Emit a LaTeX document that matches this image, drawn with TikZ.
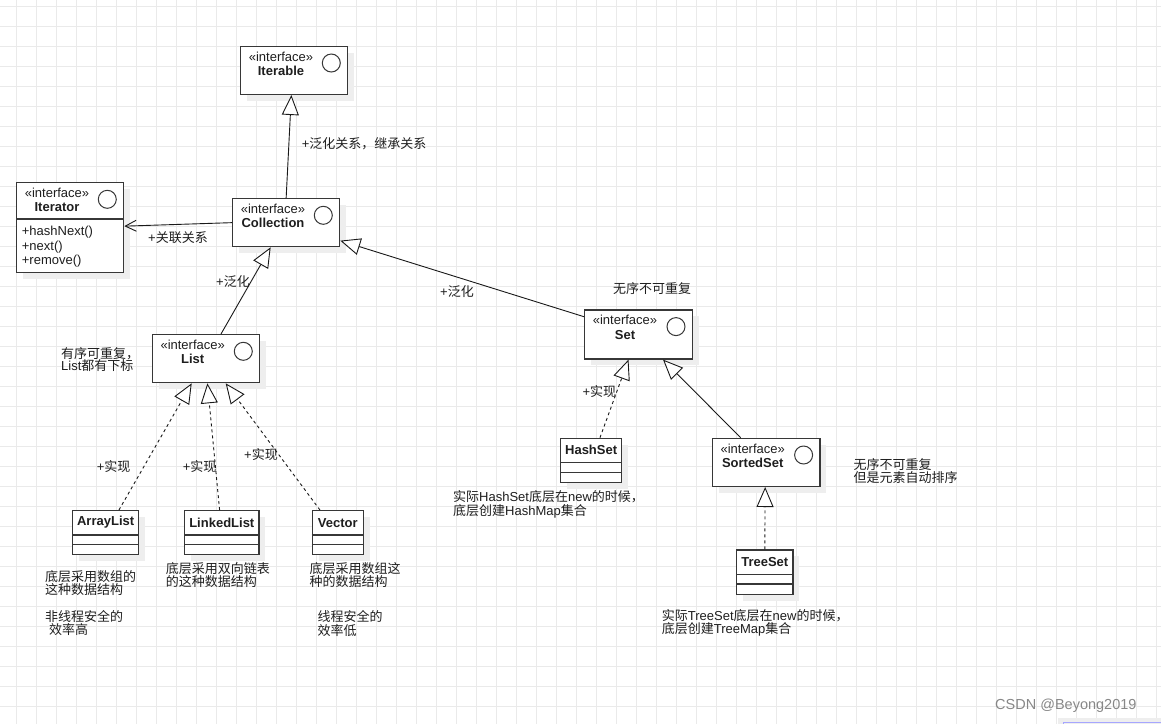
\documentclass[tikz,border=0pt]{standalone}
\usepackage{fontspec}
\setmainfont{Liberation Sans}
\newfontfamily\cjk{Noto Sans CJK SC}
\usetikzlibrary{arrows.meta}
\definecolor{gridc}{RGB}{234,234,234}
\definecolor{shadc}{RGB}{238,238,238}
\definecolor{boxc}{RGB}{55,55,55}
\definecolor{txt}{RGB}{30,30,30}
\definecolor{wmark}{RGB}{135,135,135}
\newcommand{\zh}[1]{{\cjk #1}}
\newcommand{\tightlines}{\lineskiplimit=-20pt\relax\lineskip=0pt\relax}
\newcommand{\ifacebox}[6]{% name, x, y, w, h, title
  \fill[shadc] ({#2+7},{#3+7}) rectangle ({#2+#4+7},{#3+#5+7});
  \node[ibox, minimum width=#4pt, minimum height=#5pt, anchor=north west] (#1) at (#2,#3) {};
  \node[stereo] (#1-st) at ([xshift=41pt,yshift=-11pt]#1.north west) {«interface»};
  \node[iname] (#1-nm) at ([xshift=41pt,yshift=-25.3pt]#1.north west) {#6};
  \node[icirc] (#1-c) at ([xshift=-17pt,yshift=-17.3pt]#1.north east) {};
}
\newcommand{\classbox}[6]{% name, x, y, w, h, title
  \fill[shadc] ({#2+7},{#3+7}) rectangle ({#2+#4+7},{#3+#5+7});
  \node[ibox, minimum width=#4pt, minimum height=#5pt, anchor=north west] (#1) at (#2,#3) {};
  \draw[sepline] ([yshift=-25pt]#1.north west) -- ([yshift=-25pt]#1.north east);
  \draw[sepline] ([yshift=-34.7pt]#1.north west) -- ([yshift=-34.7pt]#1.north east);
  \node[iname] (#1-nm) at ([yshift=-12.6pt]#1.north) {#6};
}
\tikzset{
  gridline/.style={draw=gridc, line width=1pt},
  ibox/.style={rectangle, draw=boxc, line width=1.3pt, fill=white, inner sep=0pt},
  sepline/.style={draw=boxc, line width=1.3pt},
  stereo/.style={inner sep=0pt, text=txt, font=\fontsize{13}{14}\selectfont},
  iname/.style={inner sep=0pt, text=txt, font=\fontsize{13}{14}\selectfont\bfseries},
  icirc/.style={circle, draw=boxc, line width=1pt, minimum size=18pt, inner sep=0pt, fill=white},
  gen/.style={draw=black!90, line width=0.9pt, -{Triangle[length=20pt, width=17pt, fill=white]}},
  real/.style={gen, dash pattern=on 3pt off 3pt},
  assoc/.style={draw=black!90, line width=0.9pt, -{Straight Barb[length=11pt, width=11pt]}},
  lbl/.style={inner sep=0pt, anchor=west, text=txt, font=\fontsize{13}{13.3}\selectfont},
  note/.style={inner sep=0pt, anchor=north west, align=left, text=txt,
    font=\fontsize{13}{13.3}\selectfont\tightlines},
}
\begin{document}
\begin{tikzpicture}[x=1pt,y=-1pt]
\fill[white] (0,0) rectangle (1161,724);
\useasboundingbox (0,0) rectangle (1161,724);
% grid
\foreach \gx in {16.5,36.5,...,1160} \draw[gridline] (\gx,0) -- (\gx,724);
\foreach \gy in {6,26,...,720} \draw[gridline] (0,\gy) -- (1161,\gy);

% interfaces
\ifacebox{itb}{240}{45.7}{107}{48}{Iterable}
\ifacebox{coll}{232}{198}{107}{48}{Collection}
\ifacebox{iter}{16}{182}{107}{90}{Iterator}
\draw[sepline] ([yshift=-37pt]iter.north west) -- ([yshift=-37pt]iter.north east);
\node[note, font=\fontsize{13}{14.5}\selectfont] (iter-m) at (21.7,226) {+hashNext()\\+next()\\+remove()};
\ifacebox{list}{151.7}{334}{107.3}{48}{List}
\ifacebox{set}{584}{309.3}{107.7}{49}{Set}
\ifacebox{ss}{711.7}{437.7}{107.6}{48}{SortedSet}

% classes
\classbox{al}{72}{510}{66}{43.5}{ArrayList}
\classbox{ll}{184}{510}{74.3}{43.5}{LinkedList}
\classbox{vec}{311.7}{510}{51}{43.5}{Vector}
\classbox{hs}{560}{437.7}{61}{44.3}{HashSet}
\classbox{ts}{736}{549.3}{56.3}{44.7}{TreeSet}

% connectors
\draw[gen] (coll.north) -- ([xshift=-2.8pt]itb.south);
\draw[assoc] (coll.west) -- ([yshift=1.5pt]iter.east);
\draw[gen] ([xshift=15pt]list.north) -- ([xshift=-15.5pt]coll.south);
\draw[gen] ([yshift=-7.4pt]set.north west) -- ([yshift=-18pt]coll.east);
\draw[real] ([xshift=8.8pt]hs.north) -- ([xshift=-10pt]set.south);
\draw[gen] ([xshift=-25.5pt]ss.north) -- ([xshift=24.5pt]set.south);
\draw[real] (ts.north) -- ([xshift=-1pt]ss.south);
\draw[real] ([xshift=13.3pt]al.north) -- ([xshift=-14.3pt]list.south);
\draw[real] ([xshift=-2.2pt]ll.north) -- ([xshift=1.4pt]list.south);
\draw[real] ([xshift=-17.9pt]vec.north) -- ([xshift=19.7pt]list.south);

% labels
\node[lbl] (l1) at (301.7,144) {+\zh{泛化关系，继承关系}};
\node[lbl] (l2) at (148,238) {+\zh{关联关系}};
\node[lbl] (l3) at (216,281.7) {+\zh{泛化}};
\node[lbl] (l4) at (440,291.7) {+\zh{泛化}};
\node[lbl] (l5) at (96.7,466.7) {+\zh{实现}};
\node[lbl] (l6) at (182.7,466.7) {+\zh{实现}};
\node[lbl] (l7) at (244,454.3) {+\zh{实现}};
\node[lbl] (l8) at (582.3,391.7) {+\zh{实现}};
\node[lbl] (l9) at (613,288.3) {\zh{无序不可重复}};

% notes
\node[note, font=\fontsize{13}{12}\selectfont\tightlines] (n1) at (61,347) {\zh{有序可重复，}\\List\zh{都有下标}};
\node[note] (n2) at (853.3,458) {\zh{无序不可重复}\\\zh{但是元素自动排序}};
\node[note] (n3) at (453,490.5) {\zh{实际}HashSet\zh{底层在}new\zh{的时候，}\\\zh{底层创建}HashMap\zh{集合}};
\node[note] (n4) at (661.7,609) {\zh{实际}TreeSet\zh{底层在}new\zh{的时候，}\\\zh{底层创建}TreeMap\zh{集合}};
\node[note] (n5) at (45,570) {\zh{底层采用数组的}\\\zh{这种数据结构}};
\node[note] (n6) at (45,610) {\zh{非线程安全的}\\\hspace{4pt}\zh{效率高}};
\node[note] (n7) at (165.7,562) {\zh{底层采用双向链表}\\\zh{的这种数据结构}};
\node[note] (n8) at (309.3,562) {\zh{底层采用数组这}\\\zh{种的数据结构}};
\node[note] (n9) at (317.3,610.5) {\zh{线程安全的}\\\zh{效率低}};

% watermark and corner
\node[inner sep=0pt, anchor=west, text=wmark, font=\fontsize{14.5}{15}\selectfont] (wm) at (995,705.7) {CSDN @Beyong2019};
\fill[shadc] (1058,718) rectangle (1161,724);
\draw[draw=blue!35, line width=1pt] (1063,724) -- (1063,722.5) -- (1161,722.5);
\end{tikzpicture}
\end{document}
